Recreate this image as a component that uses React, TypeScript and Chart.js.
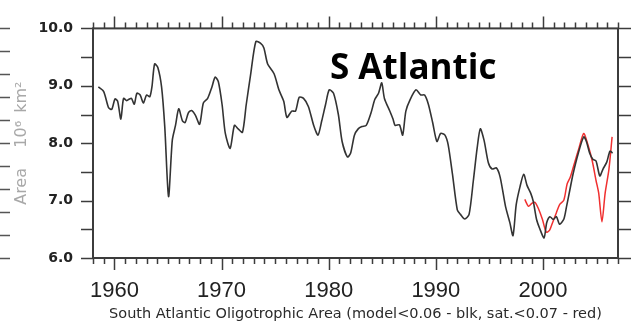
import React, { useEffect, useRef } from "react";
import { Chart, registerables } from "chart.js";

Chart.register(...registerables);

const blackYears = [
  1958.5, 1959.0, 1959.45, 1959.75, 1960.05, 1960.3, 1960.6, 1960.85, 1961.15, 1961.4,
  1961.6, 1961.85, 1962.1, 1962.4, 1962.7, 1963.0, 1963.3, 1963.5, 1963.75, 1964.05,
  1964.4, 1964.7, 1965.05, 1965.4, 1965.7, 1966.0, 1966.35, 1966.6, 1966.9, 1967.2,
  1967.55, 1967.95, 1968.3, 1968.7, 1969.1, 1969.4, 1969.7, 1970.05, 1970.35, 1970.8,
  1971.2, 1971.55, 1971.95, 1972.3, 1972.7, 1973.2, 1973.65, 1973.95, 1974.3, 1974.9,
  1975.35, 1975.8, 1976.1, 1976.55, 1976.9, 1977.25, 1977.65, 1978.1, 1978.6, 1979.0,
  1979.35, 1979.7, 1980.05, 1980.45, 1980.9, 1981.25, 1981.75, 1982.05, 1982.4, 1982.75,
  1983.1, 1983.5, 1983.95, 1984.3, 1984.65, 1984.95, 1985.2, 1985.7, 1986.0, 1986.2,
  1986.6, 1986.9, 1987.2, 1987.6, 1988.15, 1988.6, 1988.95, 1989.3, 1989.7, 1990.1,
  1990.45, 1990.85, 1991.15, 1991.55, 1992.0, 1992.3, 1992.7, 1993.1, 1993.5, 1993.85,
  1994.15, 1994.5, 1994.9, 1995.25, 1995.65, 1996.0, 1996.5, 1996.9, 1997.2, 1997.5,
  1997.85, 1998.2, 1998.5, 1998.85, 1999.1, 1999.4, 1999.7, 2000.1, 2000.35, 2000.65,
  2000.95, 2001.25, 2001.55, 2001.95, 2002.2, 2002.5, 2002.8, 2003.3, 2003.8, 2004.05,
  2004.35, 2004.65, 2004.95, 2005.3, 2005.6, 2005.95, 2006.25, 2006.5,
];
const blackValues = [
  8.98, 8.9, 8.62, 8.59, 8.77, 8.73, 8.42, 8.78, 8.74, 8.77,
  8.78, 8.68, 8.87, 8.84, 8.7, 8.84, 8.81, 8.98, 9.38, 9.32,
  8.98, 8.28, 7.07, 8.05, 8.31, 8.6, 8.39, 8.36, 8.53, 8.57,
  8.49, 8.33, 8.7, 8.78, 8.98, 9.15, 9.07, 8.67, 8.17, 7.91,
  8.31, 8.25, 8.19, 8.67, 9.18, 9.77, 9.74, 9.66, 9.38, 9.21,
  8.93, 8.73, 8.45, 8.56, 8.56, 8.8, 8.78, 8.64, 8.31, 8.14,
  8.39, 8.67, 8.93, 8.87, 8.5, 8.03, 7.76, 7.83, 8.14, 8.25,
  8.29, 8.31, 8.53, 8.76, 8.87, 9.05, 8.78, 8.56, 8.42, 8.31,
  8.32, 8.14, 8.56, 8.76, 8.93, 8.84, 8.84, 8.68, 8.36, 8.03,
  8.17, 8.14, 7.97, 7.46, 6.84, 6.76, 6.68, 6.76, 7.35, 7.91,
  8.25, 8.05, 7.66, 7.55, 7.57, 7.41, 6.9, 6.62, 6.39, 6.93,
  7.24, 7.46, 7.27, 7.13, 6.98, 6.67, 6.51, 6.35, 6.62, 6.72,
  6.67, 6.72, 6.59, 6.68, 6.9, 7.18, 7.46, 7.83, 8.11, 8.03,
  7.83, 7.72, 7.69, 7.43, 7.55, 7.67, 7.86, 7.83,
];

const redYears = [
  1998.3, 1998.65, 1998.95, 1999.25, 1999.55, 1999.95, 2000.3, 2000.6, 2000.9, 2001.25,
  2001.55, 2001.95, 2002.25, 2002.55, 2002.95, 2003.35, 2003.8, 2004.2, 2004.6, 2004.95,
  2005.2, 2005.5, 2005.8, 2006.15, 2006.45,
];
const redValues = [
  7.02, 6.9, 6.95, 6.97, 6.87, 6.67, 6.45, 6.48, 6.62, 6.79,
  6.93, 7.01, 7.29, 7.41, 7.66, 7.91, 8.17, 7.97, 7.69, 7.35,
  7.13, 6.63, 7.13, 7.54, 8.11,
];

const xMin = 1958;
const xMax = 2007;
const yMin = 6;
const yMax = 10;
const yLabelValues = [6, 7, 8, 9, 10];

const chartTitle = "S Atlantic";
const xTitle = "South Atlantic Oligotrophic Area (model<0.06 - blk, sat.<0.07 - red)";
const yTitle = "Area    10\u2076\u2002km\u00B2";

const framePlugin = {
  id: "frameTicks",
  afterDraw(chart: any) {
    const { ctx, chartArea: a, scales } = chart;
    const x = scales.x;
    const y = scales.y;
    ctx.save();
    ctx.strokeStyle = "#3c3c3c";
    ctx.lineWidth = 1.5;
    ctx.beginPath();
    for (let yr = xMin; yr <= xMax; yr++) {
      const px = Math.round(x.getPixelForValue(yr)) + 0.5;
      const len = yr % 10 === 0 ? 12 : 6;
      ctx.moveTo(px, a.bottom);
      ctx.lineTo(px, a.bottom + len);
      ctx.moveTo(px, a.top);
      ctx.lineTo(px, a.top - len);
    }
    for (let v = yMin; v <= yMax + 1e-9; v += 0.5) {
      const py = Math.round(y.getPixelForValue(v)) + 0.5;
      ctx.moveTo(a.left - 12, py);
      ctx.lineTo(a.left, py);
      ctx.moveTo(a.right, py);
      ctx.lineTo(a.right + 13, py);
    }
    ctx.stroke();
    ctx.lineWidth = 2;
    ctx.strokeRect(a.left, a.top, a.right - a.left, a.bottom - a.top);

    // partial neighbouring panel ticks at far left
    ctx.lineWidth = 1.5;
    ctx.strokeStyle = "#555";
    ctx.beginPath();
    for (let i = 0; i <= 10; i++) {
      const py = Math.round(a.top + (i * (a.bottom - a.top)) / 10) + 0.5;
      ctx.moveTo(0, py);
      ctx.lineTo(10, py);
    }
    ctx.stroke();

    ctx.fillStyle = "#000";
    ctx.font = "bold 35px 'Open Sans'";
    ctx.textBaseline = "alphabetic";
    ctx.textAlign = "left";
    ctx.fillText(chartTitle, 330, 79);
    ctx.restore();
  },
};

export default function App() {
  const ref = useRef<HTMLCanvasElement | null>(null);
  useEffect(() => {
    if (!ref.current) return;
    const black = blackYears.map((yr, i) => ({ x: yr, y: blackValues[i] }));
    const red = redYears.map((yr, i) => ({ x: yr, y: redValues[i] }));
    const chart = new Chart(ref.current, {
      type: "line",
      data: {
        datasets: [
          {
            data: black,
            borderColor: "#333333",
            borderWidth: 1.6,
            pointRadius: 0,
            tension: 0.25,
            fill: false,
          },
          {
            data: red,
            borderColor: "#f03030",
            borderWidth: 1.5,
            pointRadius: 0,
            tension: 0.25,
            fill: false,
          },
        ],
      },
      options: {
        animation: false,
        responsive: false,
        devicePixelRatio: 1,
        layout: { padding: { top: 23, right: 16, left: 0, bottom: 0 } },
        plugins: { legend: { display: false }, tooltip: { enabled: false }, title: { display: false } },
        scales: {
          x: {
            type: "linear",
            min: xMin,
            max: xMax,
            grid: { display: false, drawTicks: false, tickLength: 0 },
            border: { display: false },
            ticks: {
              stepSize: 1,
              autoSkip: false,
              maxRotation: 0,
              padding: 20,
              color: "#222",
              font: { family: "'Liberation Sans', Arial, sans-serif", size: 22 },
              callback: (v: any) => (Number(v) % 10 === 0 ? String(v) : ""),
            },
            title: {
              display: true,
              text: xTitle,
              color: "#2a2a2a",
              font: { family: "'DejaVu Sans', sans-serif", size: 14.5 },
              padding: { top: 0, bottom: 0 },
            },
            afterFit: (s: any) => {
              s.height = 65;
            },
          },
          y: {
            min: yMin,
            max: yMax,
            afterBuildTicks: (s: any) => {
              s.ticks = yLabelValues.map((v) => ({ value: v }));
            },
            grid: { display: false, drawTicks: false, tickLength: 0 },
            border: { display: false },
            ticks: {
              padding: 20,
              color: "#222",
              font: { family: "'DejaVu Sans', sans-serif", size: 14, weight: "bold" },
              callback: (v: any) => Number(v).toFixed(1),
            },
            title: {
              display: true,
              text: yTitle,
              color: "#a8a8a8",
              font: { family: "'DejaVu Sans', sans-serif", size: 16 },
              padding: { top: 12, bottom: 0 },
            },
            afterFit: (s: any) => {
              s.width = 93;
            },
          },
        },
      },
      plugins: [framePlugin],
    });
    return () => chart.destroy();
  }, []);
  return (
    <div style={{ position: "fixed", left: 0, top: 0, width: 638, height: 323, background: "#fff" }}>
      <canvas ref={ref} width={638} height={323} style={{ width: 638, height: 323, display: "block" }} />
    </div>
  );
}
